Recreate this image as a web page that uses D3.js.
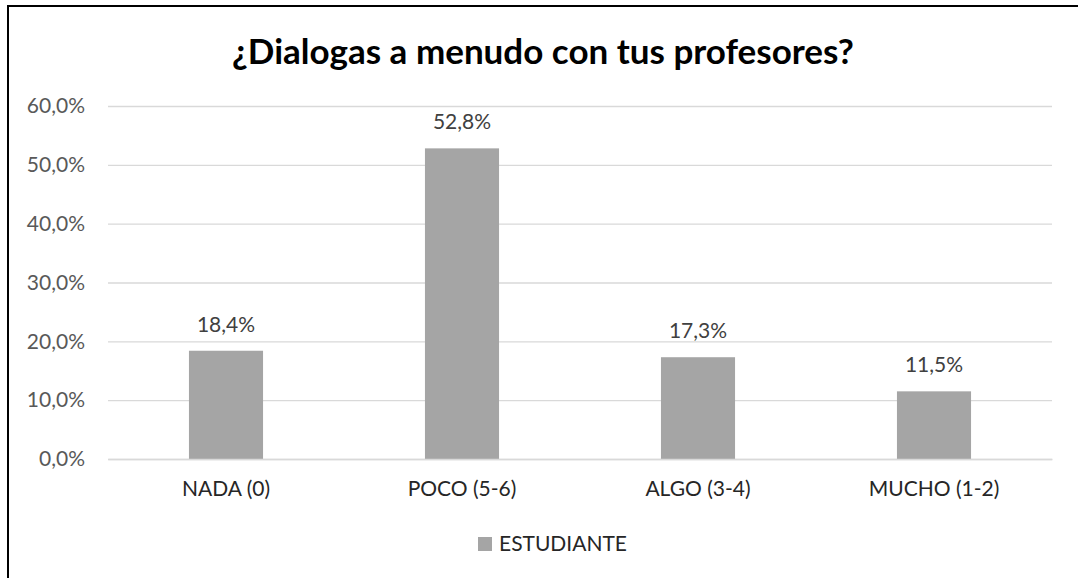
<!DOCTYPE html>
<html>
<head>
<meta charset="utf-8">
<script src="https://cdn.jsdelivr.net/npm/d3@7"></script>
<style>
    body { margin: 0; background: #fff; }
    svg { display: block; font-family: Lato, "Noto Sans", sans-serif; }
</style>
</head>
<body>
<svg id="chart"></svg>
<script>
// 数据
var categories = ['NADA (0)', 'POCO (5-6)', 'ALGO (3-4)', 'MUCHO (1-2)'];
var values = [18.4, 52.8, 17.3, 11.5];
var yTicks = [0, 10, 20, 30, 40, 50, 60];
var seriesName = 'ESTUDIANTE';
var title = '¿Dialogas a menudo con tus profesores?';

function drawChart(selector) {
    // svg的宽高
    var svgWidth = 1078,
        svgHeight = 578;
    var padding = {left: 108, right: 26, top: 106, bottom: 119};
    var fontSize = '21px';
    var svg = d3.select(selector)
        .attr('width', svgWidth)
        .attr('height', svgHeight);

    // 外框
    svg.append('rect')
        .attr('x', 8)
        .attr('y', 6)
        .attr('width', svgWidth + 10)
        .attr('height', svgHeight + 10)
        .attr('fill', '#fff')
        .attr('stroke', '#000')
        .attr('stroke-width', 2);

    var x = d3.scaleBand()
        .domain(categories)
        .range([padding.left, svgWidth - padding.right]);
    var y = d3.scaleLinear()
        .domain([0, 60])
        .range([svgHeight - padding.bottom, padding.top]);

    // 网格线 + y轴
    var yAxis = d3.axisLeft(y)
        .tickValues(yTicks)
        .tickSize(-(svgWidth - padding.left - padding.right))
        .tickPadding(23)
        .tickFormat(function(d) { return d.toFixed(1).replace('.', ',') + '%'; });
    var gy = svg.append('g')
        .attr('transform', 'translate(' + padding.left + ', 0)')
        .call(yAxis)
        .attr('font-family', null)
        .attr('font-size', null);
    gy.select('.domain').remove();
    gy.selectAll('line').attr('stroke', '#d9d9d9').attr('stroke-width', 1.3);
    gy.selectAll('text')
        .attr('fill', '#595959')
        .style('font-size', fontSize);

    // 柱形
    var barWidth = x.bandwidth() * 0.314;
    svg.selectAll('.bar')
        .data(values)
        .enter()
        .append('rect')
        .attr('class', 'bar')
        .attr('x', function(d, i) { return x(categories[i]) + x.bandwidth() / 2 - barWidth / 2; })
        .attr('y', function(d) { return y(d); })
        .attr('width', barWidth)
        .attr('height', function(d) { return y(0) - y(d); })
        .attr('fill', '#a5a5a5');

    // 数值标签
    svg.selectAll('.label')
        .data(values)
        .enter()
        .append('text')
        .attr('class', 'label')
        .attr('x', function(d, i) { return x(categories[i]) + x.bandwidth() / 2; })
        .attr('y', function(d) { return y(d) - 19; })
        .attr('text-anchor', 'middle')
        .attr('fill', '#404040')
        .style('font-size', fontSize)
        .text(function(d) { return d.toFixed(1).replace('.', ',') + '%'; });

    // x轴
    var xAxis = d3.axisBottom(x).tickSize(0).tickPadding(22);
    var gx = svg.append('g')
        .attr('transform', 'translate(0, ' + y(0) + ')')
        .call(xAxis)
        .attr('font-family', null)
        .attr('font-size', null);
    gx.select('.domain').attr('stroke', '#d9d9d9').attr('stroke-width', 1.3);
    gx.selectAll('text')
        .attr('fill', '#262626')
        .style('font-size', fontSize);

    // 标题
    svg.append('text')
        .attr('x', 543)
        .attr('y', 64)
        .attr('text-anchor', 'middle')
        .attr('fill', '#000')
        .style('font-size', '35px')
        .style('font-weight', 'bold')
        .text(title);

    // 图例
    var legend = svg.append('g')
        .attr('transform', 'translate(478, 537)');
    legend.append('rect')
        .attr('width', 14)
        .attr('height', 14)
        .attr('fill', '#a5a5a5');
    legend.append('text')
        .attr('x', 21)
        .attr('y', 14)
        .attr('fill', '#262626')
        .style('font-size', fontSize)
        .text(seriesName);
}
drawChart('#chart');
</script>
</body>
</html>
